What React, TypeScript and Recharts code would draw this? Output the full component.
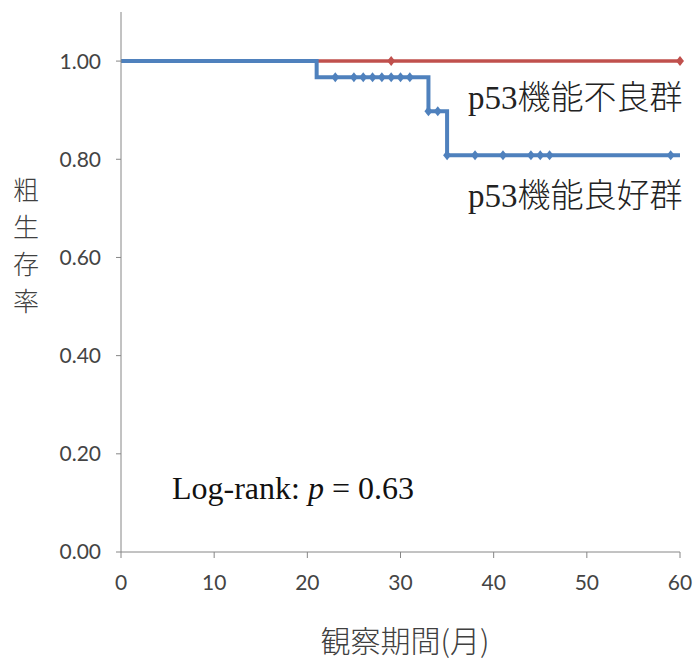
import React from 'react';
import { ComposedChart, Line, Scatter, XAxis, YAxis } from 'recharts';

// Kaplan-Meier step data
const goodTimes = [0, 21, 33, 35, 60];
const goodSurv = [1.0, 0.967, 0.898, 0.808, 0.808];
const goodCensorTimes = [23, 25, 26, 27, 28, 29, 30, 31, 33, 34, 35, 38, 41, 44, 45, 46, 59];
const goodCensorSurv = [0.967, 0.967, 0.967, 0.967, 0.967, 0.967, 0.967, 0.967, 0.898, 0.898, 0.808, 0.808, 0.808, 0.808, 0.808, 0.808, 0.808];

const poorTimes = [0, 60];
const poorSurv = [1.0, 1.0];
const poorCensorTimes = [29, 60];
const poorCensorSurv = [1.0, 1.0];

const xTicks = [0, 10, 20, 30, 40, 50, 60];
const yTicks = [0, 0.2, 0.4, 0.6, 0.8, 1.0];

const labelPoor = 'p53機能不良群';
const labelGood = 'p53機能良好群';
const yTitle = ['粗', '生', '存', '率'];
const xTitle = '観察期間(月)';

const zip = (t: number[], s: number[]) => t.map((v, i) => ({ t: v, s: s[i] }));
const goodData = zip(goodTimes, goodSurv);
const goodCensor = zip(goodCensorTimes, goodCensorSurv);
const poorData = zip(poorTimes, poorSurv);
const poorCensor = zip(poorCensorTimes, poorCensorSurv);

const BLUE = '#4F81BD';
const RED = '#C0504D';
const AXIS = '#868686';
const TICK_FONT = 'Lato, "Noto Sans", sans-serif';
const SERIF = '"Liberation Serif", "Noto Sans CJK JP", serif';
const CJK = '"Noto Sans CJK JP", sans-serif';

const makeDiamond = (color: string) => (props: any) => {
  const { cx, cy } = props;
  if (cx == null || cy == null) return <g />;
  return (
    <path
      d={`M${cx},${cy - 5} L${cx + 4},${cy} L${cx},${cy + 5} L${cx - 4},${cy} Z`}
      fill={color}
    />
  );
};

export default function App() {
  return (
    <div style={{ position: 'absolute', left: 0, top: 0, width: 697, height: 666, background: '#fff' }}>
      <ComposedChart width={697} height={666} margin={{ top: 12, right: 17, bottom: 0, left: 0 }}>
        <XAxis
          type="number"
          dataKey="t"
          domain={[0, 60]}
          ticks={xTicks}
          height={114}
          axisLine={{ stroke: AXIS }}
          tickLine={{ stroke: AXIS }}
          tickSize={6}
          tickMargin={17}
          tick={{ fill: '#444', fontSize: 21, fontFamily: TICK_FONT }}
          allowDuplicatedCategory={false}
        />
        <YAxis
          type="number"
          dataKey="s"
          domain={[0, 1.1]}
          ticks={yTicks}
          width={121}
          axisLine={{ stroke: AXIS }}
          tickLine={{ stroke: AXIS }}
          tickSize={5}
          tickMargin={15}
          tickFormatter={(v: number) => v.toFixed(2)}
          tick={{ fill: '#444', fontSize: 21, fontFamily: TICK_FONT }}
        />
        <Line data={poorData} dataKey="s" type="stepAfter" stroke={RED} strokeWidth={3.5} dot={false} isAnimationActive={false} />
        <Scatter data={poorCensor} dataKey="s" shape={makeDiamond(RED)} isAnimationActive={false} />
        <Line data={goodData} dataKey="s" type="stepAfter" stroke={BLUE} strokeWidth={4} dot={false} isAnimationActive={false} />
        <Scatter data={goodCensor} dataKey="s" shape={makeDiamond(BLUE)} isAnimationActive={false} />
      </ComposedChart>
      <svg width={697} height={666} style={{ position: 'absolute', left: 0, top: 0, pointerEvents: 'none' }}>
        <text x={468} y={109} fontSize={33} fontWeight={300} fontFamily={SERIF} fill="#222">{labelPoor}</text>
        <text x={468} y={207} fontSize={33} fontWeight={300} fontFamily={SERIF} fill="#222">{labelGood}</text>
        <text x={172} y={499} fontSize={32} fontFamily={SERIF} fill="#111">
          Log-rank: <tspan fontStyle="italic">p</tspan> = 0.63
        </text>
        {yTitle.map((c, i) => (
          <text key={c} x={26} y={200 + i * 37} fontSize={26} fontWeight={300} textAnchor="middle" fontFamily={CJK} fill="#404040">{c}</text>
        ))}
        <text x={405} y={652} fontSize={30} fontWeight={300} textAnchor="middle" fontFamily={CJK} fill="#404040">{xTitle}</text>
      </svg>
    </div>
  );
}
